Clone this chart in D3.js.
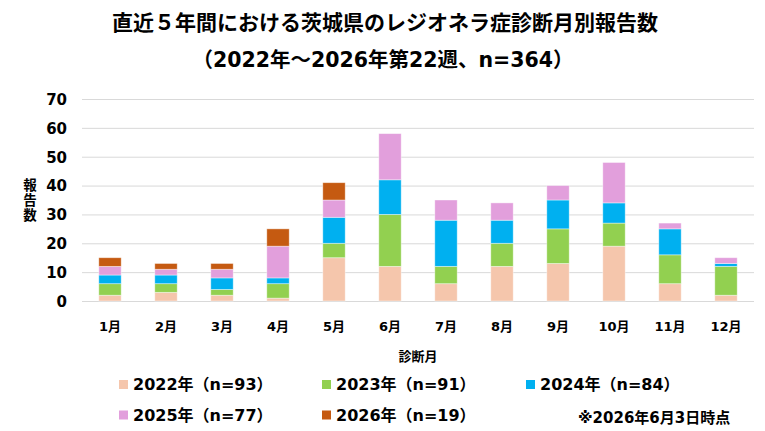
<!DOCTYPE html>
<html>
<head>
<meta charset="utf-8">
<script src="https://cdn.jsdelivr.net/npm/d3@7"></script>
<style>
  body { margin: 0; background: #fff; }
  svg text { font-family: "DejaVu Sans", "Noto Sans CJK JP", sans-serif; font-weight: bold; fill: #000; }
</style>
</head>
<body>
<div id="chart"></div>
<script>
const months = ["1月", "2月", "3月", "4月", "5月", "6月", "7月", "8月", "9月", "10月", "11月", "12月"];
const years = ["2022年", "2023年", "2024年", "2025年", "2026年"];
const legendLabels = ["2022年（n=93）", "2023年（n=91）", "2024年（n=84）", "2025年（n=77）", "2026年（n=19）"];
const colors = ["#F5C6AC", "#92D050", "#00B0F0", "#E29FDC", "#C55A11"];

const v2022 = [2, 3, 2, 1, 15, 12, 6, 12, 13, 19, 6, 2];
const v2023 = [4, 3, 2, 5, 5, 18, 6, 8, 12, 8, 10, 10];
const v2024 = [3, 3, 4, 2, 9, 12, 16, 8, 10, 7, 9, 1];
const v2025 = [3, 2, 3, 11, 6, 16, 7, 6, 5, 14, 2, 2];
const v2026 = [3, 2, 2, 6, 6, 0, 0, 0, 0, 0, 0, 0];
const yTicks = [0, 10, 20, 30, 40, 50, 60, 70];

const dimensions = {
    width: 765,
    height: 431,
    plot: { left: 82, right: 754, top: 99, bottom: 301 }
};

const series = [v2022, v2023, v2024, v2025, v2026];
const table = months.map((m, i) => {
    const row = { month: m };
    years.forEach((y, k) => row[y] = series[k][i]);
    return row;
});
const stacked = d3.stack().keys(years)(table);

const svg = d3.select("#chart")
    .append("svg")
    .attr("width", dimensions.width)
    .attr("height", dimensions.height);

const xScale = d3.scaleBand()
    .domain(months)
    .range([dimensions.plot.left, dimensions.plot.right])
    .paddingInner(0.6)
    .paddingOuter(0.3);

const yScale = d3.scaleLinear()
    .domain([0, 70])
    .range([dimensions.plot.bottom, dimensions.plot.top]);

// gridlines
svg.append("g")
    .selectAll("line")
    .data(yTicks)
    .enter()
    .append("line")
    .attr("x1", dimensions.plot.left)
    .attr("x2", dimensions.plot.right)
    .attr("y1", d => yScale(d) + 0.5)
    .attr("y2", d => yScale(d) + 0.5)
    .attr("stroke", "#D9D9D9")
    .attr("stroke-width", 1);

// bars
svg.selectAll(".layer")
    .data(stacked)
    .enter()
    .append("g")
    .attr("class", "layer")
    .attr("fill", (d, i) => colors[i])
    .selectAll("rect")
    .data(d => d.filter(s => s[1] - s[0] > 0))
    .enter()
    .append("rect")
    .attr("x", d => xScale(d.data.month))
    .attr("y", d => yScale(d[1]))
    .attr("width", xScale.bandwidth())
    .attr("height", d => yScale(d[0]) - yScale(d[1]))
    .attr("stroke", "#fff")
    .attr("stroke-opacity", 0.5)
    .attr("stroke-width", 0.8);

// y axis
const yAxis = svg.append("g")
    .attr("transform", `translate(${dimensions.plot.left},0.5)`)
    .call(d3.axisLeft(yScale).tickValues(yTicks).tickSize(0).tickPadding(15));
yAxis.select(".domain").remove();
yAxis.selectAll("text")
    .style("font-size", "15px")
    .style("font-family", "\"DejaVu Sans\", sans-serif")
    .style("font-weight", "bold");

// x axis
const xAxis = svg.append("g")
    .attr("transform", `translate(0,${dimensions.plot.bottom})`)
    .call(d3.axisBottom(xScale).tickSize(0).tickPadding(21));
xAxis.select(".domain").remove();
xAxis.selectAll("text")
    .style("font-size", "13px")
    .style("font-family", "\"DejaVu Sans\", \"Noto Sans CJK JP\", sans-serif")
    .style("font-weight", "bold");

// titles
svg.append("text")
    .attr("x", 385)
    .attr("y", 30)
    .attr("text-anchor", "middle")
    .style("font-size", "21px")
    .text("直近５年間における茨城県のレジオネラ症診断月別報告数");

svg.append("text")
    .attr("x", 383)
    .attr("y", 67)
    .attr("text-anchor", "middle")
    .style("font-size", "20.5px")
    .text("（2022年～2026年第22週、n=364）");

// y axis title, one character per line
svg.append("text")
    .attr("text-anchor", "middle")
    .style("font-size", "13.5px")
    .selectAll("tspan")
    .data(["報", "告", "数"])
    .enter()
    .append("tspan")
    .attr("x", 30)
    .attr("y", (d, i) => 190 + i * 15)
    .text(d => d);

// x axis title
svg.append("text")
    .attr("x", 418)
    .attr("y", 361)
    .attr("text-anchor", "middle")
    .style("font-size", "13px")
    .text("診断月");

// legend
const legendPos = [[119, 384.5], [322, 384.5], [526, 384.5], [119, 415], [322, 415]];
const legend = svg.selectAll(".legend")
    .data(legendLabels)
    .enter()
    .append("g")
    .attr("class", "legend")
    .attr("transform", (d, i) => `translate(${legendPos[i][0]},${legendPos[i][1]})`);

legend.append("rect")
    .attr("x", 0)
    .attr("y", -4.5)
    .attr("width", 9)
    .attr("height", 9)
    .attr("fill", (d, i) => colors[i]);

legend.append("text")
    .attr("x", 14)
    .attr("dy", "0.36em")
    .style("font-size", "16px")
    .text(d => d);

svg.append("text")
    .attr("x", 578)
    .attr("y", 418)
    .attr("dy", "0.36em")
    .style("font-size", "15px")
    .text("※2026年6月3日時点");
</script>
</body>
</html>
